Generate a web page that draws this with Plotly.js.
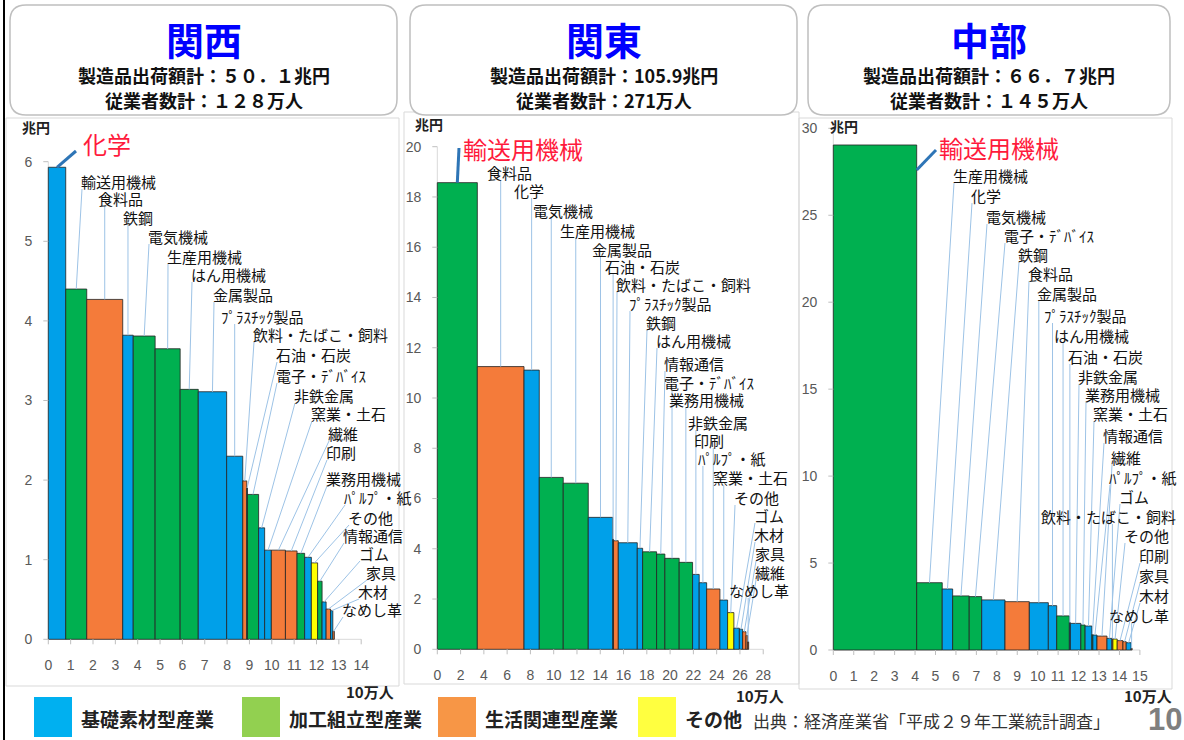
<!DOCTYPE html>
<html><head><meta charset="utf-8">
<script src="https://cdn.plot.ly/plotly-3.0.1.min.js"></script>
<style>body{margin:0;background:#fff}#chart{width:1184px;height:740px}</style>
</head><body><div id="chart"></div>
<script>
// ================= DATA =================
const regionNames = ['関西', '関東', '中部'];
const regionShipTotals = ['５０．１', '105.9', '６６．７'];   // 兆円
const regionEmpTotals = ['１２８', '271', '１４５'];          // 万人

// 関西 (bar order) : shipments 兆円, employees 10万人
const kansaiNames = ['化学','輸送用機械','食料品','鉄鋼','電気機械','生産用機械','はん用機械','金属製品','ﾌﾟﾗｽﾁｯｸ製品','飲料・たばこ・飼料','石油・石炭','電子・ﾃﾞﾊﾞｲｽ','非鉄金属','窯業・土石','繊維','印刷','業務用機械','ﾊﾟﾙﾌﾟ・紙','その他','情報通信','ゴム','家具','木材','なめし革'];
const kansaiShip = [5.93,4.40,4.27,3.82,3.81,3.65,3.14,3.11,2.30,1.99,1.90,1.82,1.40,1.12,1.12,1.11,1.08,1.03,0.96,0.73,0.47,0.38,0.36,0.10];
const kansaiEmp  = [0.78,0.94,1.61,0.47,0.98,1.12,0.81,1.27,0.72,0.18,0.03,0.50,0.27,0.30,0.63,0.52,0.34,0.30,0.28,0.20,0.18,0.20,0.10,0.07];
const kansaiLabelOrder = kansaiNames.slice();

// 関東
const kantoNames = ['輸送用機械','食料品','化学','電気機械','生産用機械','金属製品','石油・石炭','飲料・たばこ・飼料','ﾌﾟﾗｽﾁｯｸ製品','鉄鋼','はん用機械','情報通信','電子・ﾃﾞﾊﾞｲｽ','業務用機械','非鉄金属','ﾊﾟﾙﾌﾟ・紙','印刷','窯業・土石','その他','ゴム','木材','家具','繊維','なめし革'];
const kantoShip = [18.57,11.25,11.11,6.84,6.61,5.25,4.38,4.32,4.24,4.02,3.88,3.79,3.62,3.46,2.98,2.65,2.40,1.96,1.46,0.84,0.80,0.70,0.55,0.30];
const kantoEmp  = [3.44,4.01,1.31,2.06,2.15,2.10,0.07,0.41,1.63,0.46,1.20,0.71,1.23,1.15,0.57,0.64,1.14,0.66,0.54,0.47,0.28,0.29,0.15,0.08];
const kantoLabelOrder = ['輸送用機械','食料品','化学','電気機械','生産用機械','金属製品','石油・石炭','飲料・たばこ・飼料','ﾌﾟﾗｽﾁｯｸ製品','鉄鋼','はん用機械','情報通信','電子・ﾃﾞﾊﾞｲｽ','業務用機械','非鉄金属','印刷','ﾊﾟﾙﾌﾟ・紙','窯業・土石','その他','ゴム','木材','家具','繊維','なめし革'];

// 中部
const chubuNames = ['輸送用機械','生産用機械','化学','電気機械','電子・ﾃﾞﾊﾞｲｽ','鉄鋼','食料品','金属製品','ﾌﾟﾗｽﾁｯｸ製品','はん用機械','石油・石炭','非鉄金属','業務用機械','窯業・土石','情報通信','ﾊﾟﾙﾌﾟ・紙','繊維','ゴム','飲料・たばこ・飼料','その他','印刷','家具','木材','なめし革'];
const chubuShip = [29.04,3.87,3.51,3.11,3.07,2.88,2.78,2.72,2.55,1.96,1.58,1.53,1.44,1.38,0.90,0.86,0.80,0.67,0.65,0.63,0.54,0.48,0.42,0.10];
const chubuEmp  = [4.08,1.25,0.51,0.81,0.61,1.14,1.19,0.93,0.41,0.62,0.05,0.51,0.21,0.33,0.05,0.20,0.49,0.24,0.05,0.21,0.28,0.16,0.24,0.05];
const chubuLabelOrder = ['輸送用機械','生産用機械','化学','電気機械','電子・ﾃﾞﾊﾞｲｽ','鉄鋼','食料品','金属製品','ﾌﾟﾗｽﾁｯｸ製品','はん用機械','石油・石炭','非鉄金属','業務用機械','窯業・土石','情報通信','繊維','ﾊﾟﾙﾌﾟ・紙','ゴム','飲料・たばこ・飼料','その他','印刷','家具','木材','なめし革'];

// industry groups
const basicGroup = ['化学','鉄鋼','非鉄金属','金属製品','ﾌﾟﾗｽﾁｯｸ製品','窯業・土石','石油・石炭','ゴム','木材','ﾊﾟﾙﾌﾟ・紙'];
const assemblyGroup = ['輸送用機械','電気機械','生産用機械','はん用機械','電子・ﾃﾞﾊﾞｲｽ','業務用機械','情報通信'];
const livingGroup = ['食料品','飲料・たばこ・飼料','繊維','家具','印刷','なめし革'];
const otherGroup = ['その他'];
const legendLabels = ['基礎素材型産業','加工組立型産業','生活関連型産業','その他'];

const xTicksKansai = [0,1,2,3,4,5,6,7,8,9,10,11,12,13,14];
const xTicksKanto = [0,2,4,6,8,10,12,14,16,18,20,22,24,26,28];
const xTicksChubu = [0,1,2,3,4,5,6,7,8,9,10,11,12,13,14,15];
const yTicksKansai = [0,1,2,3,4,5,6];
const yTicksKanto = [0,2,4,6,8,10,12,14,16,18,20];
const yTicksChubu = [0,5,10,15,20,25,30];

// ================= LAYOUT (pixel placement of labels) =================
const kansaiLabelPos = [[82,143],[80,181],[97,198],[122,217],[147,236],[166,256],[190,274],[212,294],[220,316],[252,334],[275,354],[275,375],[293,395],[310,413],[327,433],[325,452],[325,478],[343,497],[347,517],[342,535],[358,553],[365,572],[357,591],[341,609]];
const kantoLabelPos = [[462,148],[486,172],[513,190],[532,210],[559,230],[591,249],[604,266],[615,284],[628,303],[645,322],[655,340],[663,363],[663,382],[668,399],[687,422],[693,440],[697,458],[712,477],[733,497],[753,515],[753,534],[754,553],[754,572],[728,590]];
const chubuLabelPos = [[938,147],[952,175],[970,195],[985,216],[1003,235],[1017,254],[1027,273],[1036,293],[1043,315],[1053,335],[1067,356],[1077,376],[1084,394],[1092,413],[1102,435],[1110,457],[1108,477],[1118,496],[1040,516],[1123,535],[1138,555],[1138,575],[1138,595],[1108,615]];

const W = 1184, H = 740;
const JP = '"Noto Sans CJK JP", "Noto Sans", sans-serif';
const NUM = '"Liberation Sans", Arial, sans-serif';
const barColors = {basic:'#00A0E9', assembly:'#00B050', living:'#F47B3A', other:'#FFFF00'};
const legendColors = ['#00B0F0', '#92D050', '#F79646', '#FFFF40'];
function groupOf(n){
  if (basicGroup.includes(n)) return 'basic';
  if (assemblyGroup.includes(n)) return 'assembly';
  if (livingGroup.includes(n)) return 'living';
  return 'other';
}

const panels = [
  {names:kansaiNames, ship:kansaiShip, emp:kansaiEmp, labels:kansaiLabelOrder, pos:kansaiLabelPos,
   px0:48.3, pxu:22.35, py0:639.3, pyu:79.6, R:400, T:118, xt:xTicksKansai, yt:yTicksKansai,
   hi:{sx:'center', sdy:0, ex:-6, ey:8}, unitY:[20,127], unitX:[345,691], box:[10,5,397,115], area:[6,118,399,686]},
  {names:kantoNames, ship:kantoShip, emp:kantoEmp, labels:kantoLabelOrder, pos:kantoLabelPos,
   px0:437.3, pxu:11.64, py0:649.3, pyu:25.13, R:800, T:112, xt:xTicksKanto, yt:yTicksKanto,
   hi:{sx:'center', sdy:0, ex:-3, ey:0}, unitY:[413,124], unitX:[735,695], box:[410,5,797,115], area:[404,112,799,684]},
  {names:chubuNames, ship:chubuShip, emp:chubuEmp, labels:chubuLabelOrder, pos:chubuLabelPos,
   px0:833.3, pxu:20.44, py0:650, pyu:17.39, R:1182, T:112, xt:xTicksChubu, yt:yTicksChubu,
   hi:{sx:'right', sdy:25, ex:-2, ey:3}, unitY:[828,126], unitX:[1123,695], box:[808,5,1170,115], area:[799,118,1172,689]}
];

const traces = [];
const shapes = [];
const annotations = [];
const layout = {width:W, height:H, margin:{l:0,r:0,t:0,b:0}, paper_bgcolor:'#fff', plot_bgcolor:'rgba(0,0,0,0)',
  showlegend:false, barmode:'overlay', shapes:shapes, annotations:annotations, font:{family:JP}};

const P = (px)=>px/W, Q = (py)=>1-py/H;
function roundRect(x0,y0,x1,y1,r){
  const rx=r, ry=r;
  return `M${P(x0+rx)},${Q(y0)} L${P(x1-rx)},${Q(y0)} Q${P(x1)},${Q(y0)} ${P(x1)},${Q(y0+ry)} L${P(x1)},${Q(y1-ry)} Q${P(x1)},${Q(y1)} ${P(x1-rx)},${Q(y1)} L${P(x0+rx)},${Q(y1)} Q${P(x0)},${Q(y1)} ${P(x0)},${Q(y1-ry)} L${P(x0)},${Q(y0+ry)} Q${P(x0)},${Q(y0)} ${P(x0+rx)},${Q(y0)} Z`;
}
function textWidth(s, fs){ let w=0; for (const ch of s){ const c=ch.charCodeAt(0); w += (c>=0xFF61 && c<=0xFF9F) ? 0.5*fs : (c<128 ? 0.55*fs : fs); } return w; }

// left border line of the slide
shapes.push({type:'line', xref:'paper', yref:'paper', x0:P(4), x1:P(4), y0:0, y1:1, line:{color:'#000', width:2}, layer:'below'});

panels.forEach((p, i) => {
  const xa = i===0 ? 'x' : 'x'+(i+1);
  const ya = i===0 ? 'y' : 'y'+(i+1);
  const xk = i===0 ? 'xaxis' : 'xaxis'+(i+1);
  const yk = i===0 ? 'yaxis' : 'yaxis'+(i+1);
  const dx = (px)=>(px - p.px0)/p.pxu;
  const dy = (py)=>(p.py0 - py)/p.pyu;

  // chart area border and title box
  shapes.push({type:'rect', xref:'paper', yref:'paper', x0:P(p.area[0]), x1:P(p.area[2]), y0:Q(p.area[3]), y1:Q(p.area[1]), line:{color:'#D9D9D9', width:1}, layer:'below'});
  shapes.push({type:'path', xref:'paper', yref:'paper', path:roundRect(p.box[0],p.box[1],p.box[2],p.box[3],16), line:{color:'#BFBFBF', width:1.5}, fillcolor:'#fff', layer:'below'});
  const cx = (p.box[0]+p.box[2])/2;
  annotations.push({xref:'paper', yref:'paper', x:P(cx), y:Q(38), text:'<b>'+regionNames[i]+'</b>', showarrow:false, xanchor:'center', yanchor:'middle', font:{family:JP, size:38, color:'#0000FF'}});
  annotations.push({xref:'paper', yref:'paper', x:P(cx), y:Q(75), text:'<b>製造品出荷額計：'+regionShipTotals[i]+'兆円</b>', showarrow:false, xanchor:'center', yanchor:'middle', font:{family:JP, size:18, color:'#111'}});
  annotations.push({xref:'paper', yref:'paper', x:P(cx), y:Q(100), text:'<b>従業者数計：'+regionEmpTotals[i]+'万人</b>', showarrow:false, xanchor:'center', yanchor:'middle', font:{family:JP, size:18, color:'#111'}});

  // bars (variable width)
  let cum = 0;
  const centers = p.emp.map(w => { const c = cum + w/2; cum += w; return c; });
  traces.push({type:'bar', x:centers, y:p.ship, width:p.emp, xaxis:xa, yaxis:ya,
    marker:{color:p.names.map(n => barColors[groupOf(n)]), line:{color:'rgba(35,35,35,0.8)', width:1}},
    hoverinfo:'skip'});

  const xmax = p.xt[p.xt.length-1], ymax = p.yt[p.yt.length-1];
  layout[xk] = {domain:[(p.px0-8)/W, p.R/W], range:[-8/p.pxu, (p.R-p.px0)/p.pxu], tickvals:p.xt, ticks:'',
    showline:false, showgrid:false, zeroline:false, anchor:ya, fixedrange:true, ticklabelstandoff:8,
    tickfont:{family:NUM, size:14, color:'#595959'}};
  layout[yk] = {domain:[1-(p.py0+8)/H, 1-p.T/H], range:[-8/p.pyu, (p.py0-p.T)/p.pyu], tickvals:p.yt, ticks:'',
    showline:false, showgrid:false, zeroline:false, anchor:xa, fixedrange:true, ticklabelstandoff:7,
    tickfont:{family:NUM, size:14, color:'#595959'}};

  // axis lines & tick marks
  shapes.push({type:'line', xref:xa, yref:ya, x0:0, x1:xmax, y0:0, y1:0, line:{color:'#D9D9D9', width:1}, layer:'below'});
  shapes.push({type:'line', xref:xa, yref:ya, x0:0, x1:0, y0:0, y1:ymax, line:{color:'#D9D9D9', width:1}, layer:'below'});
  p.xt.forEach(t => shapes.push({type:'line', xref:xa, yref:ya, x0:t, x1:t, y0:0, y1:-5/p.pyu, line:{color:'#BFBFBF', width:1}}));
  p.yt.forEach(t => shapes.push({type:'line', xref:xa, yref:ya, x0:-5/p.pxu, x1:0, y0:t, y1:t, line:{color:'#BFBFBF', width:1}}));

  // unit labels
  annotations.push({xref:'paper', yref:'paper', x:P(p.unitY[0]), y:Q(p.unitY[1]), text:'兆円', showarrow:false, xanchor:'left', yanchor:'middle', font:{family:JP, size:14, color:'#222', weight:700}});
  annotations.push({xref:'paper', yref:'paper', x:P(p.unitX[0]), y:Q(p.unitX[1]), text:'10万人', showarrow:false, xanchor:'left', yanchor:'middle', borderpad:0, font:{family:JP, size:15, color:'#222', weight:700}});

  // category labels and leader lines
  p.labels.forEach((name, j) => {
    const k = p.names.indexOf(name);
    const [lx, ly] = p.pos[j];
    const first = (j === 0);
    const fs = first ? 24 : 15;
    annotations.push({xref:xa, yref:ya, x:dx(lx), y:dy(ly), text:name, showarrow:false, xanchor:'left', yanchor:'middle',
      borderpad:0, font:{family:JP, size:fs, color: first ? '#FF1A3C' : '#111'}});
    if (first) {
      const sx = p.hi.sx === 'right' ? centers[k] + p.emp[k]/2 : centers[k];
      shapes.push({type:'line', xref:xa, yref:ya, x0:sx, y0:p.ship[k] - p.hi.sdy/p.pyu,
        x1:dx(lx + p.hi.ex), y1:dy(ly + p.hi.ey), line:{color:'#2E75B6', width:3}});
    } else {
      const barPx = p.px0 + centers[k]*p.pxu;
      const wpx = textWidth(name, fs);
      const sxp = Math.max(lx + 2, Math.min(barPx, lx + wpx - 4));
      shapes.push({type:'line', xref:xa, yref:ya, x0:dx(sxp), y0:dy(ly + 8), x1:centers[k], y1:p.ship[k],
        line:{color:'#9DC3E6', width:1}});
    }
  });
});

// legend (drawn graphic)
const legSq = [34, 242, 438, 638];
legendLabels.forEach((t, i) => {
  shapes.push({type:'rect', xref:'paper', yref:'paper', x0:P(legSq[i]), x1:P(legSq[i]+38), y0:Q(737), y1:Q(697), fillcolor:legendColors[i], line:{width:0}});
  annotations.push({xref:'paper', yref:'paper', x:P(legSq[i]+45), y:Q(718), text:'<b>'+t+'</b>', showarrow:false, xanchor:'left', yanchor:'middle', font:{family:JP, size:19, color:'#222'}});
});
annotations.push({xref:'paper', yref:'paper', x:P(751), y:Q(720), text:'出典：経済産業省「平成２９年工業統計調査」', showarrow:false, xanchor:'left', yanchor:'middle', font:{family:JP, size:17, color:'#333'}});
annotations.push({xref:'paper', yref:'paper', x:P(1183), y:Q(719), text:'<b>10</b>', showarrow:false, xanchor:'right', yanchor:'middle', borderpad:0, font:{family:'"Liberation Sans Narrow", "Liberation Sans", sans-serif', size:31, color:'#7F7F7F'}});

Plotly.newPlot('chart', traces, layout, {staticPlot:true, displayModeBar:false});
</script></body></html>
